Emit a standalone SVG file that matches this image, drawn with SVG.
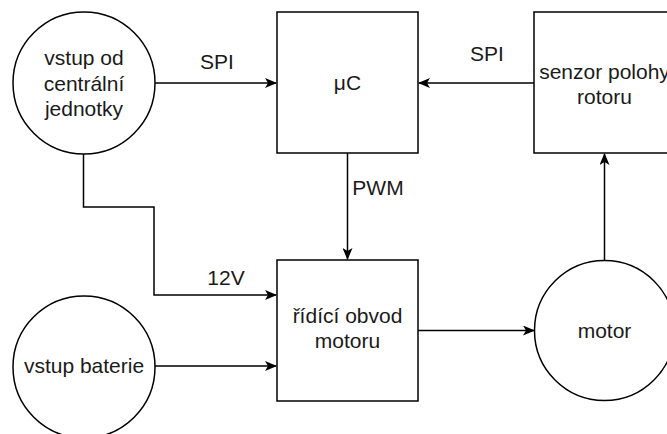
<svg xmlns="http://www.w3.org/2000/svg" width="667" height="434" viewBox="0 0 667 434">
<style>
.n{fill:#fff;stroke:#000;stroke-width:1.5}
.e{fill:none;stroke:#000;stroke-width:1.5}
text{font-family:"Liberation Sans",Arial,sans-serif;font-size:21px;fill:#1a1a1a;text-anchor:middle}
</style>
<defs>
<marker id="a" viewBox="0 0 12 10" refX="11" refY="5" markerWidth="12" markerHeight="10" markerUnits="userSpaceOnUse" orient="auto">
<path d="M0,0 L12,5 L0,10 L3,5 Z" fill="#000"/>
</marker>
</defs>
<g id="edges">
<path class="e" d="M155,83 H276" marker-end="url(#a)"/>
<path class="e" d="M534,83 H419" marker-end="url(#a)"/>
<path class="e" d="M347.5,153 V259" marker-end="url(#a)"/>
<path class="e" d="M83.5,154 V207 H154 V295 H276" marker-end="url(#a)"/>
<path class="e" d="M155,366 H276" marker-end="url(#a)"/>
<path class="e" d="M418,330.5 H534" marker-end="url(#a)"/>
<path class="e" d="M604.5,260 V154" marker-end="url(#a)"/>
<text x="217" y="69">SPI</text>
<text x="487" y="61">SPI</text>
<text x="378" y="195">PWM</text>
<text x="226" y="285">12V</text>
</g>
<g id="vstup-central">
<circle class="n" cx="84" cy="83" r="71"/>
<text x="84" y="65">vstup od</text>
<text x="84" y="91">centrální</text>
<text x="84" y="116">jednotky</text>
</g>
<g id="uc">
<rect class="n" x="277" y="12" width="141" height="141"/>
<text x="347.5" y="90">μC</text>
</g>
<g id="senzor">
<rect class="n" x="534" y="12" width="141" height="141"/>
<text x="604.5" y="79">senzor polohy</text>
<text x="604.5" y="104">rotoru</text>
</g>
<g id="ridici">
<rect class="n" x="277" y="260" width="141" height="141"/>
<text x="347.5" y="323">řídící obvod</text>
<text x="347.5" y="348">motoru</text>
</g>
<g id="baterie">
<circle class="n" cx="84" cy="367" r="71"/>
<text x="84" y="373">vstup baterie</text>
</g>
<g id="motor">
<circle class="n" cx="604.5" cy="330.5" r="70"/>
<text x="604.5" y="338">motor</text>
</g>
</svg>
